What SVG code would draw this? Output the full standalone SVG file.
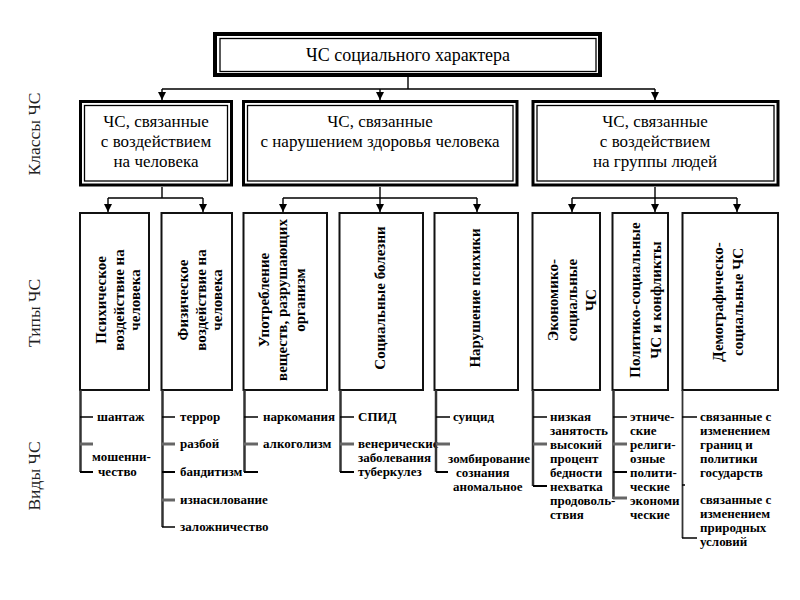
<svg xmlns="http://www.w3.org/2000/svg" width="800" height="600" viewBox="0 0 800 600" font-family="'Liberation Serif', 'DejaVu Serif', 'Times New Roman', serif">
<style>
  .bg{fill:#fff}
  .frame{fill:none;stroke:#000}
  .o4{stroke-width:4}
  .o3{stroke-width:3}
  .i1{stroke-width:1.3}
  .tbox{fill:#fff;stroke:#111;stroke-width:2}
  .t{font-family:'Liberation Serif','DejaVu Serif','Times New Roman',serif;fill:#000}
  .title{font-size:18px}
  .cls{font-size:17px}
  .side{font-size:17.5px;fill:#222}
  .vt{font-size:15px;font-weight:bold}
  .it{font-size:13px;font-weight:bold}
  .conn{fill:none;stroke:#000;stroke-width:1.4}
  .vl{fill:none;stroke:#333;stroke-width:2.5}
  .tk{fill:none;stroke:#000;stroke-width:1.5}
  .tkg{fill:none;stroke:#666;stroke-width:3}
</style>
<defs>
  <marker id="arr" markerWidth="8" markerHeight="8" refX="8" refY="4" orient="auto" markerUnits="userSpaceOnUse">
    <path d="M0,0 L8,4 L0,8 z" fill="#000"/>
  </marker>
</defs>
<rect class="bg" x="0" y="0" width="800" height="600"/>

<g id="side-labels">
  <text class="t side" text-anchor="middle" dominant-baseline="central" transform="translate(34,134) rotate(-90)">Классы ЧС</text>
  <text class="t side" text-anchor="middle" dominant-baseline="central" transform="translate(34,313) rotate(-90)">Типы ЧС</text>
  <text class="t side" text-anchor="middle" dominant-baseline="central" transform="translate(34,476) rotate(-90)">Виды ЧС</text>
</g>

<g id="root">
  <rect class="frame o4" x="215" y="34" width="385" height="41"/>
  <rect class="frame i1" x="220" y="38.5" width="376" height="33"/>
  <text class="t title" x="408" y="55" text-anchor="middle" dominant-baseline="central">ЧС социального характера</text>
</g>

<g id="class1">
  <rect class="frame o3" x="80.5" y="101.5" width="151" height="83.5"/>
  <rect class="frame i1" x="84.5" y="105.5" width="143" height="75.5"/>
  <text class="t cls" text-anchor="middle" dominant-baseline="central"><tspan x="156" y="121">ЧС, связанные</tspan><tspan x="156" y="141">с воздействием</tspan><tspan x="156" y="161">на человека</tspan></text>
</g>
<g id="class2">
  <rect class="frame o3" x="243.5" y="101.5" width="273.5" height="83.5"/>
  <rect class="frame i1" x="247.5" y="105.5" width="265.5" height="75.5"/>
  <text class="t cls" text-anchor="middle" dominant-baseline="central"><tspan x="380" y="121">ЧС, связанные</tspan><tspan x="380" y="141">с нарушением здоровья человека</tspan></text>
</g>
<g id="class3">
  <rect class="frame o3" x="533" y="101.5" width="245" height="83.5"/>
  <rect class="frame i1" x="537" y="105.5" width="237" height="75.5"/>
  <text class="t cls" text-anchor="middle" dominant-baseline="central"><tspan x="655" y="121">ЧС, связанные</tspan><tspan x="655" y="141">с воздействием</tspan><tspan x="655" y="161">на группы людей</tspan></text>
</g>

<g id="typeA">
  <rect class="tbox" x="80" y="213" width="69" height="177"/>
  <text class="t vt" text-anchor="middle" dominant-baseline="central" transform="translate(101,300) rotate(-90)">Психическое</text>
  <text class="t vt" text-anchor="middle" dominant-baseline="central" transform="translate(119,300) rotate(-90)">воздействие на</text>
  <text class="t vt" text-anchor="middle" dominant-baseline="central" transform="translate(135,300) rotate(-90)">человека</text>
</g>
<g id="typeB">
  <rect class="tbox" x="161.5" y="213" width="70.5" height="177"/>
  <text class="t vt" text-anchor="middle" dominant-baseline="central" transform="translate(183,300) rotate(-90)">Физическое</text>
  <text class="t vt" text-anchor="middle" dominant-baseline="central" transform="translate(201,300) rotate(-90)">воздействие на</text>
  <text class="t vt" text-anchor="middle" dominant-baseline="central" transform="translate(217,300) rotate(-90)">человека</text>
</g>
<g id="typeC">
  <rect class="tbox" x="243.5" y="213" width="83.5" height="177"/>
  <text class="t vt" text-anchor="middle" dominant-baseline="central" transform="translate(264,300) rotate(-90)">Употребление</text>
  <text class="t vt" text-anchor="middle" dominant-baseline="central" transform="translate(282,300) rotate(-90)">веществ, разрушающих</text>
  <text class="t vt" text-anchor="middle" dominant-baseline="central" transform="translate(300,300) rotate(-90)">организм</text>
</g>
<g id="typeD">
  <rect class="tbox" x="339.5" y="213" width="83.5" height="177"/>
  <text class="t vt" text-anchor="middle" dominant-baseline="central" transform="translate(380,298) rotate(-90)">Социальные болезни</text>
</g>
<g id="typeE">
  <rect class="tbox" x="434.5" y="213" width="83.5" height="177"/>
  <text class="t vt" text-anchor="middle" dominant-baseline="central" transform="translate(475,298) rotate(-90)">Нарушение психики</text>
</g>
<g id="typeF">
  <rect class="tbox" x="532.5" y="213" width="67.5" height="177"/>
  <text class="t vt" text-anchor="middle" dominant-baseline="central" transform="translate(553,300) rotate(-90)">Экономико-</text>
  <text class="t vt" text-anchor="middle" dominant-baseline="central" transform="translate(572,300) rotate(-90)">социальные</text>
  <text class="t vt" text-anchor="middle" dominant-baseline="central" transform="translate(591,300) rotate(-90)">ЧС</text>
</g>
<g id="typeG">
  <rect class="tbox" x="612.5" y="213" width="55.5" height="177"/>
  <text class="t vt" text-anchor="middle" dominant-baseline="central" transform="translate(635,300) rotate(-90)">Политико-социальные</text>
  <text class="t vt" text-anchor="middle" dominant-baseline="central" transform="translate(656,300) rotate(-90)">ЧС и конфликты</text>
</g>
<g id="typeH">
  <rect class="tbox" x="682.5" y="213" width="95.5" height="177"/>
  <text class="t vt" text-anchor="middle" dominant-baseline="central" transform="translate(718,302) rotate(-90)">Демографическо-</text>
  <text class="t vt" text-anchor="middle" dominant-baseline="central" transform="translate(738,302) rotate(-90)">социальные ЧС</text>
</g>

<g id="connectors">
  <path class="conn" d="M408,77 V89 M162,89 H655"/>
  <path class="conn" d="M162,89 V100" marker-end="url(#arr)"/>
  <path class="conn" d="M380,89 V100" marker-end="url(#arr)"/>
  <path class="conn" d="M655,89 V100" marker-end="url(#arr)"/>

  <path class="conn" d="M162,187 V198 M108,198 H203"/>
  <path class="conn" d="M108,198 V212" marker-end="url(#arr)"/>
  <path class="conn" d="M203,198 V212" marker-end="url(#arr)"/>

  <path class="conn" d="M380,187 V198 M283,198 H477"/>
  <path class="conn" d="M283,198 V212" marker-end="url(#arr)"/>
  <path class="conn" d="M380,198 V212" marker-end="url(#arr)"/>
  <path class="conn" d="M477,198 V212" marker-end="url(#arr)"/>

  <path class="conn" d="M655,187 V198 M572,198 H737"/>
  <path class="conn" d="M572,198 V212" marker-end="url(#arr)"/>
  <path class="conn" d="M655,198 V212" marker-end="url(#arr)"/>
  <path class="conn" d="M737,198 V212" marker-end="url(#arr)"/>
</g>

<g id="listA">
  <path class="vl" d="M80.5,390 V472"/>
  <path class="tk" d="M80,417 H93"/>
  <path class="tkg" d="M80,444 H93"/>
  <path class="tk" d="M80,472 H93" style="stroke-width:2"/>
  <text class="t it"><tspan x="97" y="421">шантаж</tspan><tspan x="92" y="461">мошенни-</tspan><tspan x="98" y="476">чество</tspan></text>
</g>
<g id="listB">
  <path class="vl" d="M162.5,390 V527"/>
  <path class="tk" d="M162,417 H175"/>
  <path class="tkg" d="M162,444 H175"/>
  <path class="tk" d="M162,472 H175" style="stroke-width:2"/>
  <path class="tkg" d="M162,500 H175"/>
  <path class="tk" d="M162,527 H175"/>
  <text class="t it"><tspan x="180" y="421">террор</tspan><tspan x="180" y="448">разбой</tspan><tspan x="180" y="476">бандитизм</tspan><tspan x="180" y="504">изнасилование</tspan><tspan x="180" y="531">заложничество</tspan></text>
</g>
<g id="listC">
  <path class="vl" d="M244.5,390 V472"/>
  <path class="tk" d="M244,417 H258"/>
  <path class="tkg" d="M244,444 H258"/>
  <path class="tk" d="M244,472 H258" style="stroke-width:2"/>
  <text class="t it"><tspan x="263" y="421">наркомания</tspan><tspan x="263" y="448">алкоголизм</tspan></text>
</g>
<g id="listD">
  <path class="vl" d="M340.5,390 V472"/>
  <path class="tk" d="M340,417 H354"/>
  <path class="tkg" d="M340,444 H354"/>
  <path class="tk" d="M340,472 H354" style="stroke-width:2"/>
  <text class="t it"><tspan x="358" y="421">СПИД</tspan><tspan x="358" y="448">венерические</tspan><tspan x="358" y="462">заболевания</tspan><tspan x="358" y="476">туберкулез</tspan></text>
</g>
<g id="listE">
  <path class="vl" d="M436,390 V472"/>
  <path class="tk" d="M436,417 H450"/>
  <path class="tkg" d="M436,444 H450"/>
  <path class="tk" d="M436,472 H448" style="stroke-width:2"/>
  <text class="t it"><tspan x="453" y="421">суицид</tspan><tspan x="448" y="463">зомбирование</tspan><tspan x="456" y="477">сознания</tspan><tspan x="453" y="491">аномальное</tspan></text>
</g>
<g id="listF">
  <path class="vl" d="M533,390 V486"/>
  <path class="tk" d="M533,417 H547"/>
  <path class="tkg" d="M533,444 H547"/>
  <path class="tk" d="M533,486 H547" style="stroke-width:2"/>
  <text class="t it"><tspan x="550" y="421">низкая</tspan><tspan x="550" y="435">занятость</tspan><tspan x="550" y="449">высокий</tspan><tspan x="550" y="463">процент</tspan><tspan x="550" y="477">бедности</tspan><tspan x="550" y="491">нехватка</tspan><tspan x="550" y="505">продоволь-</tspan><tspan x="550" y="519">ствия</tspan></text>
</g>
<g id="listG">
  <path class="vl" d="M613.5,390 V499"/>
  <path class="tk" d="M613,417 H627"/>
  <path class="tkg" d="M613,444 H627"/>
  <path class="tk" d="M613,472 H627" style="stroke-width:2"/>
  <path class="tkg" d="M613,498 H627"/>
  <text class="t it"><tspan x="630" y="421">этниче-</tspan><tspan x="630" y="435">ские</tspan><tspan x="630" y="449">религи-</tspan><tspan x="630" y="463">озные</tspan><tspan x="630" y="477">полити-</tspan><tspan x="630" y="491">ческие</tspan><tspan x="630" y="505">экономи</tspan><tspan x="630" y="519">ческие</tspan></text>
</g>
<g id="listH">
  <path class="vl" d="M682.5,390 V538" style="stroke-width:1.8"/>
  <path class="tk" d="M682,417 H697"/>
  <path class="tk" d="M682,485 H685"/>
  <path class="tk" d="M682,538 H697"/>
  <text class="t it"><tspan x="700" y="421">связанные с</tspan><tspan x="700" y="435">изменением</tspan><tspan x="700" y="449">границ и</tspan><tspan x="700" y="463">политики</tspan><tspan x="700" y="477">государств</tspan><tspan x="700" y="504">связанные с</tspan><tspan x="700" y="518">изменением</tspan><tspan x="700" y="532">природных</tspan><tspan x="700" y="546">условий</tspan></text>
</g>
</svg>
